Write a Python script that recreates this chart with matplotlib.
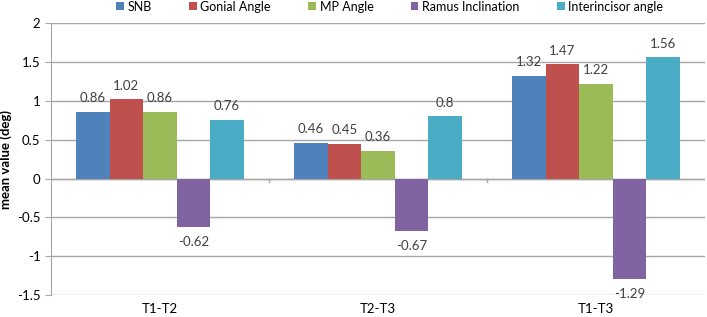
import matplotlib.pyplot as plt
import numpy as np

plt.rcParams['font.family'] = ['Lato', 'DejaVu Sans']

categories = ["T1-T2", "T2-T3", "T1-T3"]
series_names = ["SNB", "Gonial Angle", "MP Angle", "Ramus Inclination", "Interincisor angle"]
snb = [0.86, 0.46, 1.32]
gonial = [1.02, 0.45, 1.47]
mp = [0.86, 0.36, 1.22]
ramus = [-0.62, -0.67, -1.29]
interincisor = [0.76, 0.8, 1.56]
colors = ["#4F81BD", "#C0504D", "#9BBB59", "#8064A2", "#4BACC6"]

all_series = [snb, gonial, mp, ramus, interincisor]

fig, ax = plt.subplots(figsize=(7.07, 3.17), dpi=100)
fig.subplots_adjust(left=0.072, right=0.997, top=0.927, bottom=0.069)

x = np.arange(len(categories))
w = 1 / 6.5
for i, vals in enumerate(all_series):
    pos = x - 2 * w + i * w
    ax.bar(pos, vals, w, color=colors[i], label=series_names[i], zorder=3)
    for p, v in zip(pos, vals):
        if v >= 0:
            ax.text(p, v + 0.1, f"{v:g}", ha='center', va='bottom', fontsize=9.5, color='#404040')
        else:
            ax.text(p, v - 0.12, f"{v:g}", ha='center', va='top', fontsize=9.5, color='#404040')

ax.set_ylim(-1.5, 2)
ax.set_xlim(-0.5, 2.5)
ax.set_yticks(np.arange(-1.5, 2.01, 0.5))
ax.set_yticklabels(["-1.5", "-1", "-0.5", "0", "0.5", "1", "1.5", "2"], fontsize=9.5)
ax.yaxis.grid(True, color='#a6a6a6', linewidth=1, zorder=0)
ax.tick_params(axis='y', length=4, color='#a6a6a6')
ax.set_ylabel("mean value (deg)", fontsize=9.5, fontweight='bold')
ax.yaxis.set_label_coords(-0.06, 0.5)

# category labels at bottom, x axis line at zero
ax.set_xticks([])
for xi, c in zip(x, categories):
    ax.text(xi, -1.6, c, ha='center', va='top', fontsize=9.5, color='black')
ax.axhline(0, color='#a6a6a6', linewidth=1, zorder=2)
for b in [0.5, 1.5]:
    ax.plot([b, b], [0, -0.05], color='#a6a6a6', linewidth=1, zorder=2)

for s in ['top', 'right', 'bottom']:
    ax.spines[s].set_visible(False)
ax.spines['left'].set_color('#a6a6a6')

ax.legend(loc='center', bbox_to_anchor=(0.518, 1.06), ncol=5, frameon=False,
          fontsize=9, handlelength=0.6, handleheight=0.6, handletextpad=0.3,
          columnspacing=3.0, borderaxespad=0, borderpad=0)

fig.savefig("out.png", dpi=100)
